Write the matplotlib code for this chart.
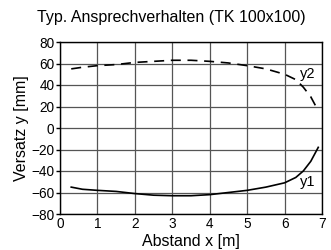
import matplotlib
matplotlib.use('Agg')
import matplotlib.pyplot as plt

plt.rcParams['font.family'] = ['Liberation Sans', 'DejaVu Sans']

# --- data ---
x = [0.3, 0.6, 1.0, 1.5, 2.0, 2.5, 3.0, 3.5, 4.0, 4.5, 5.0, 5.5, 6.0, 6.3, 6.5, 6.7, 6.9]
y1 = [-55, -57, -58, -59, -61, -62.5, -63, -63, -62, -60, -58, -55, -51, -46, -40, -31, -18]
y2 = [55, 56.5, 58, 59, 61, 62, 63, 63, 62, 60.5, 58, 55, 50, 45, 38, 29, 16]

xticks = [0, 1, 2, 3, 4, 5, 6, 7]
yticks = [-80, -60, -40, -20, 0, 20, 40, 60, 80]

fig = plt.figure(figsize=(3.31, 2.5), dpi=100)
ax = fig.add_axes([60/331, 1 - 214/250, 262/331, 172/250])

ax.plot(x, y1, color='black', linewidth=1.2)
ax.plot(x, y2, color='black', linewidth=1.2, linestyle=(0, (6, 4)))

ax.text(6.62, -50, 'y1', fontsize=10.5, ha='center', va='center')
ax.text(6.62, 50, 'y2', fontsize=10.5, ha='center', va='center')

ax.set_xlim(0, 7)
ax.set_ylim(-80, 80)
ax.set_xticks(xticks)
ax.set_yticks(yticks)
ax.tick_params(labelsize=9.8, pad=1)
ax.tick_params(axis='x', length=0, pad=2)
ax.tick_params(axis='y', direction='out', length=3, width=1)
ax.grid(True, color='#555555', linewidth=0.9)
for s in ax.spines.values():
    s.set_linewidth(1)

ax.set_xlabel('Abstand x [m]', fontsize=11.5, labelpad=2)
ax.set_ylabel('Versatz y [mm]', fontsize=11.5)
ax.yaxis.set_label_coords(-(60 - 29) / 262, 0.5)
fig.text(171.5/331, 1 - 17/250, 'Typ. Ansprechverhalten (TK 100x100)',
         fontsize=11.5, ha='center', va='center')

fig.savefig('out.png', dpi=100)
